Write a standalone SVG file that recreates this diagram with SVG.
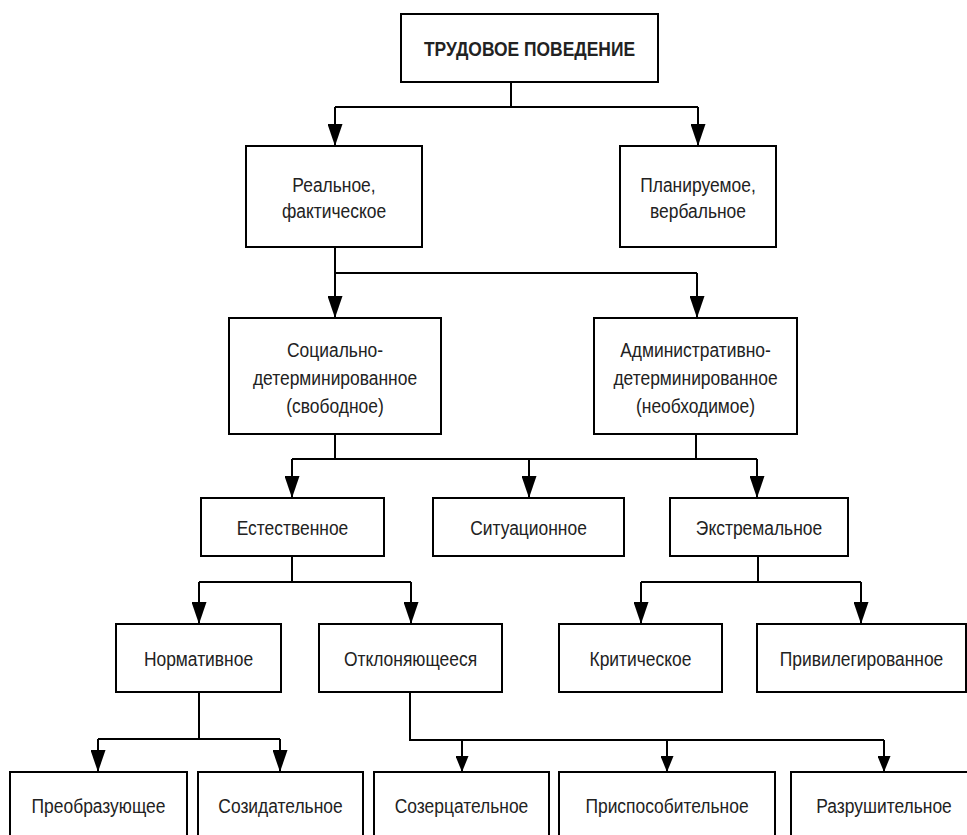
<svg xmlns="http://www.w3.org/2000/svg" width="967" height="835" viewBox="0 0 967 835">
<style>
.box{fill:#fff;stroke:#000;stroke-width:2}
.t{font-family:"Liberation Sans",Arial,sans-serif;font-size:21px;fill:#222;text-anchor:middle}
.tb{font-family:"Liberation Sans",Arial,sans-serif;font-size:21px;font-weight:bold;fill:#222;text-anchor:middle}
.c{fill:none;stroke:#000;stroke-width:2}
.a{marker-end:url(#arr)}
.s{marker-end:url(#arrs)}
</style>
<defs>
<marker id="arr" viewBox="0 0 22 15" markerWidth="22" markerHeight="15" refX="21" refY="7.5" orient="auto" markerUnits="userSpaceOnUse"><path d="M0,0 L22,7.5 L0,15 Z" fill="#000"/></marker>
<marker id="arrs" viewBox="0 0 16 13" markerWidth="16" markerHeight="13" refX="15" refY="6.5" orient="auto" markerUnits="userSpaceOnUse"><path d="M0,0 L16,6.5 L0,13 Z" fill="#000"/></marker>
</defs>
<rect width="967" height="835" fill="#fff"/>
<g id="connectors">
<path class="c" d="M511,82 V107"/>
<path class="c" d="M335,107 H698"/>
<path class="c a" d="M335,107 V145"/>
<path class="c a" d="M698,107 V145"/>
<path class="c a" d="M335,247 V317"/>
<path class="c" d="M335,273 H697"/>
<path class="c a" d="M697,273 V317"/>
<path class="c" d="M335,434 V459"/>
<path class="c" d="M696,434 V459"/>
<path class="c" d="M292,459 H757"/>
<path class="c a" d="M292,459 V497"/>
<path class="c a" d="M529,459 V497"/>
<path class="c a" d="M757,459 V497"/>
<path class="c" d="M292,556 V582"/>
<path class="c" d="M199,582 H411"/>
<path class="c a" d="M199,582 V623"/>
<path class="c a" d="M411,582 V623"/>
<path class="c" d="M758,556 V582"/>
<path class="c" d="M641,582 H861"/>
<path class="c a" d="M641,582 V623"/>
<path class="c a" d="M861,582 V623"/>
<path class="c" d="M199,692 V739"/>
<path class="c" d="M98,739 H280"/>
<path class="c a" d="M98,739 V771"/>
<path class="c a" d="M280,739 V771"/>
<path class="c" d="M410,692 V740 H884"/>
<path class="c s" d="M462,740 V771"/>
<path class="c s" d="M667,740 V771"/>
<path class="c s" d="M884,740 V771"/>
</g>
<g id="n0"><rect class="box" x="401" y="14" width="257" height="68"/><text class="tb" transform="translate(529.5,55.5) scale(.83,1)">ТРУДОВОЕ ПОВЕДЕНИЕ</text></g>
<g id="n1"><rect class="box" x="246" y="146" width="176" height="101"/><text class="t" transform="translate(334,191.5) scale(.83,1)">Реальное,</text><text class="t" transform="translate(334,217.5) scale(.83,1)">фактическое</text></g>
<g id="n2"><rect class="box" x="620" y="146" width="156" height="101"/><text class="t" transform="translate(698,191.5) scale(.83,1)">Планируемое,</text><text class="t" transform="translate(698,217.5) scale(.83,1)">вербальное</text></g>
<g id="n3"><rect class="box" x="229" y="318" width="212" height="116"/><text class="t" transform="translate(335,356.5) scale(.83,1)">Социально-</text><text class="t" transform="translate(335,384.5) scale(.83,1)">детерминированное</text><text class="t" transform="translate(335,412.5) scale(.83,1)">(свободное)</text></g>
<g id="n4"><rect class="box" x="594" y="318" width="203" height="116"/><text class="t" transform="translate(695.5,356.5) scale(.83,1)">Административно-</text><text class="t" transform="translate(695.5,384.5) scale(.83,1)">детерминированное</text><text class="t" transform="translate(695.5,412.5) scale(.83,1)">(необходимое)</text></g>
<g id="n5"><rect class="box" x="201" y="498" width="183" height="58"/><text class="t" transform="translate(292.5,534.5) scale(.83,1)">Естественное</text></g>
<g id="n6"><rect class="box" x="433" y="498" width="191" height="58"/><text class="t" transform="translate(528.5,534.5) scale(.83,1)">Ситуационное</text></g>
<g id="n7"><rect class="box" x="670" y="498" width="178" height="58"/><text class="t" transform="translate(759,534.5) scale(.83,1)">Экстремальное</text></g>
<g id="n8"><rect class="box" x="116" y="624" width="165" height="68"/><text class="t" transform="translate(198.5,665.5) scale(.83,1)">Нормативное</text></g>
<g id="n9"><rect class="box" x="319" y="624" width="183" height="68"/><text class="t" transform="translate(410.5,665.5) scale(.83,1)">Отклоняющееся</text></g>
<g id="n10"><rect class="box" x="559" y="624" width="163" height="68"/><text class="t" transform="translate(640.5,665.5) scale(.83,1)">Критическое</text></g>
<g id="n11"><rect class="box" x="757" y="624" width="209" height="68"/><text class="t" transform="translate(861.5,665.5) scale(.83,1)">Привилегированное</text></g>
<g id="n12"><rect class="box" x="10" y="772" width="177" height="80"/><text class="t" transform="translate(98.5,812.5) scale(.83,1)">Преобразующее</text></g>
<g id="n13"><rect class="box" x="198" y="772" width="165" height="80"/><text class="t" transform="translate(280.5,812.5) scale(.83,1)">Созидательное</text></g>
<g id="n14"><rect class="box" x="374" y="772" width="175" height="80"/><text class="t" transform="translate(461.5,812.5) scale(.83,1)">Созерцательное</text></g>
<g id="n15"><rect class="box" x="559" y="772" width="216" height="80"/><text class="t" transform="translate(667,812.5) scale(.83,1)">Приспособительное</text></g>
<g id="n16"><rect class="box" x="791" y="772" width="186" height="80"/><text class="t" transform="translate(884,812.5) scale(.83,1)">Разрушительное</text></g>
</svg>
